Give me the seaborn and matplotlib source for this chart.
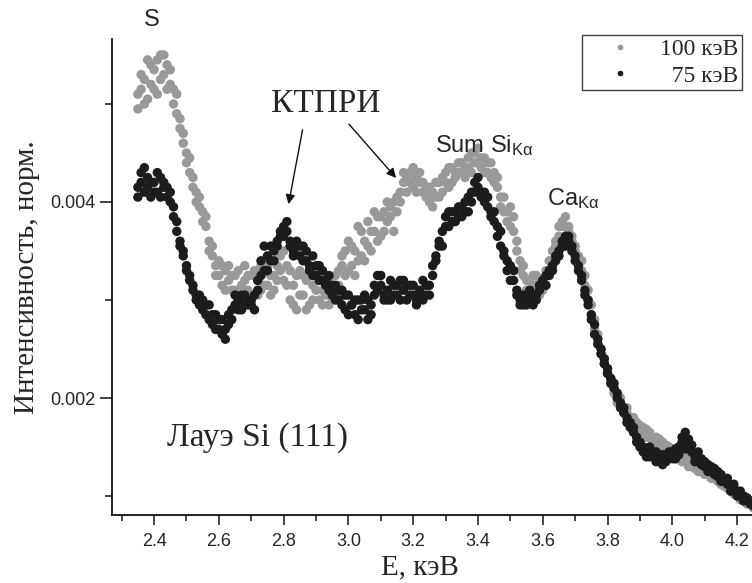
import numpy as np
import pandas as pd
import matplotlib
matplotlib.use("Agg")
import matplotlib.pyplot as plt
import seaborn as sns
from matplotlib.ticker import MultipleLocator, FixedLocator, FormatStrFormatter

# energy grid, keV
energy = [
    2.35, 2.36, 2.37, 2.38, 2.39, 2.40, 2.41, 2.42, 2.43, 2.44,
    2.45, 2.46, 2.47, 2.48, 2.49, 2.50, 2.51, 2.52, 2.53, 2.54,
    2.55, 2.56, 2.57, 2.58, 2.59, 2.60, 2.61, 2.62, 2.63, 2.64,
    2.65, 2.66, 2.67, 2.68, 2.69, 2.70, 2.71, 2.72, 2.73, 2.74,
    2.75, 2.76, 2.77, 2.78, 2.79, 2.80, 2.81, 2.82, 2.83, 2.84,
    2.85, 2.86, 2.87, 2.88, 2.89, 2.90, 2.91, 2.92, 2.93, 2.94,
    2.95, 2.96, 2.97, 2.98, 2.99, 3.00, 3.01, 3.02, 3.03, 3.04,
    3.05, 3.06, 3.07, 3.08, 3.09, 3.10, 3.11, 3.12, 3.13, 3.14,
    3.15, 3.16, 3.17, 3.18, 3.19, 3.20, 3.21, 3.22, 3.23, 3.24,
    3.25, 3.26, 3.27, 3.28, 3.29, 3.30, 3.31, 3.32, 3.33, 3.34,
    3.35, 3.36, 3.37, 3.38, 3.39, 3.40, 3.41, 3.42, 3.43, 3.44,
    3.45, 3.46, 3.47, 3.48, 3.49, 3.50, 3.51, 3.52, 3.53, 3.54,
    3.55, 3.56, 3.57, 3.58, 3.59, 3.60, 3.61, 3.62, 3.63, 3.64,
    3.65, 3.66, 3.67, 3.68, 3.69, 3.70, 3.71, 3.72, 3.73, 3.74,
    3.75, 3.76, 3.77, 3.78, 3.79, 3.80, 3.81, 3.82, 3.83, 3.84,
    3.85, 3.86, 3.87, 3.88, 3.89, 3.90, 3.91, 3.92, 3.93, 3.94,
    3.95, 3.96, 3.97, 3.98, 3.99, 4.00, 4.01, 4.02, 4.03, 4.04,
    4.05, 4.06, 4.07, 4.08, 4.09, 4.10, 4.11, 4.12, 4.13, 4.14,
    4.15, 4.16, 4.17, 4.18, 4.19, 4.20, 4.21, 4.22, 4.23, 4.24,
    4.25,
]

# intensity x 1e-3, 100 keV (grey), two readings per energy
i_100 = [
    5.10, 5.30, 5.00, 5.45, 5.20, 5.35, 5.10, 5.50, 5.30, 5.40,
    5.20, 5.00, 5.10, 4.75, 4.60, 4.50, 4.30, 4.25, 4.10, 3.95,
    3.90, 3.75, 3.60, 3.45, 3.35, 3.25, 3.15, 3.30, 3.20, 3.10,
    3.25, 3.00, 3.15, 3.20, 3.10, 3.25, 3.05, 3.20, 3.10, 3.30,
    3.15, 3.05, 3.25, 3.35, 3.45, 3.20, 3.35, 3.00, 3.15, 2.90,
    3.30, 3.05, 3.20, 2.95, 3.15, 3.30, 3.00, 3.10, 3.25, 2.95,
    3.15, 3.05, 3.30, 3.35, 3.50, 3.30, 3.55, 3.25, 3.75, 3.45,
    3.60, 3.80, 3.50, 3.70, 3.85, 3.65, 3.90, 3.80, 3.95, 3.70,
    4.05, 4.10, 4.20, 4.25, 4.30, 4.15, 4.25, 4.20, 4.10, 4.05,
    4.15, 3.95, 4.05, 4.20, 4.10, 4.30, 4.15, 4.35, 4.25, 4.40,
    4.30, 4.35, 4.45, 4.30, 4.50, 4.40, 4.45, 4.30, 4.40, 4.25,
    4.30, 4.15, 4.05, 3.90, 3.80, 3.95, 3.70, 3.50, 3.40, 3.25,
    3.20, 3.10, 3.25, 3.15, 3.05, 3.20, 3.30, 3.40, 3.50, 3.60,
    3.75, 3.80, 3.75, 3.70, 3.60, 3.50, 3.45, 3.30, 3.15, 3.00,
    2.85, 2.70, 2.55, 2.45, 2.35, 2.25, 2.15, 2.05, 2.00, 1.95,
    1.90, 1.85, 1.80, 1.75, 1.70, 1.72, 1.65, 1.68, 1.60, 1.55,
    1.60, 1.50, 1.55, 1.45, 1.50, 1.42, 1.48, 1.40, 1.35, 1.42,
    1.30, 1.35, 1.28, 1.32, 1.25, 1.30, 1.22, 1.25, 1.20, 1.15,
    1.18, 1.10, 1.12, 1.05, 1.08, 1.02, 1.00, 0.98, 0.95, 0.92,
    0.90,
]
i_100_b = [
    4.95, 5.15, 5.25, 5.05, 5.40, 5.15, 5.45, 5.25, 5.50, 5.15,
    5.35, 5.15, 4.90, 4.85, 4.70, 4.40, 4.45, 4.15, 4.00, 4.05,
    3.80, 3.85, 3.50, 3.55, 3.25, 3.40, 3.35, 3.10, 3.35, 3.25,
    3.10, 3.30, 3.05, 3.35, 3.25, 3.00, 3.30, 3.05, 3.35, 3.15,
    3.35, 3.25, 3.10, 3.20, 3.30, 3.50, 3.15, 3.30, 2.95, 3.25,
    3.05, 3.25, 2.90, 3.30, 3.00, 3.10, 3.25, 2.95, 3.05, 3.20,
    3.00, 3.25, 3.15, 3.45, 3.25, 3.60, 3.35, 3.50, 3.40, 3.70,
    3.40, 3.55, 3.70, 3.90, 3.60, 3.85, 3.70, 4.00, 3.85, 4.00,
    3.90, 4.00, 4.30, 4.10, 4.20, 4.35, 4.10, 4.30, 4.20, 4.15,
    4.00, 4.10, 4.20, 4.05, 4.25, 4.20, 4.35, 4.20, 4.30, 4.30,
    4.40, 4.25, 4.35, 4.50, 4.40, 4.55, 4.35, 4.45, 4.30, 4.40,
    4.20, 4.25, 3.95, 4.05, 3.90, 3.75, 3.85, 3.60, 3.30, 3.35,
    3.10, 3.20, 3.05, 3.25, 3.20, 3.10, 3.25, 3.30, 3.40, 3.55,
    3.65, 3.75, 3.85, 3.75, 3.65, 3.55, 3.40, 3.40, 3.25, 3.10,
    2.95, 2.80, 2.65, 2.50, 2.40, 2.30, 2.20, 2.10, 1.95, 2.00,
    1.85, 1.90, 1.75, 1.80, 1.75, 1.65, 1.70, 1.60, 1.65, 1.58,
    1.52, 1.58, 1.48, 1.52, 1.42, 1.48, 1.38, 1.45, 1.42, 1.35,
    1.38, 1.30, 1.35, 1.25, 1.30, 1.22, 1.28, 1.18, 1.22, 1.18,
    1.12, 1.15, 1.08, 1.10, 1.02, 1.05, 0.96, 1.00, 0.92, 0.95,
    0.88,
]

# intensity x 1e-3, 75 keV (black), two readings per energy
i_75 = [
    4.15, 4.30, 4.10, 4.25, 4.05, 4.20, 4.10, 4.25, 4.15, 4.05,
    4.10, 3.95, 3.70, 3.60, 3.45, 3.35, 3.25, 3.15, 3.05, 2.95,
    3.00, 2.85, 2.95, 2.75, 2.85, 2.70, 2.80, 2.60, 2.75, 2.90,
    2.95, 3.00, 2.90, 3.05, 2.95, 3.00, 2.90, 3.10, 3.25, 3.55,
    3.30, 3.40, 3.50, 3.55, 3.65, 3.75, 3.80, 3.60, 3.50, 3.60,
    3.45, 3.55, 3.40, 3.30, 3.45, 3.25, 3.35, 3.20, 3.15, 3.25,
    3.05, 3.15, 3.00, 3.10, 2.90, 3.05, 2.95, 2.85, 3.00, 2.90,
    3.05, 2.80, 2.95, 3.05, 3.25, 3.15, 3.00, 3.10, 3.00, 3.15,
    3.05, 3.20, 3.10, 3.00, 3.15, 3.05, 2.95, 3.10, 3.20, 3.05,
    3.15, 3.35, 3.45, 3.55, 3.70, 3.85, 3.75, 3.90, 3.80, 3.95,
    3.85, 4.00, 3.90, 4.10, 4.20, 4.15, 4.05, 4.10, 3.95, 3.85,
    3.90, 3.75, 3.55, 3.45, 3.30, 3.35, 3.20, 3.05, 3.00, 2.95,
    3.05, 3.00, 2.95, 3.05, 3.10, 3.15, 3.25, 3.30, 3.35, 3.40,
    3.50, 3.55, 3.65, 3.60, 3.50, 3.45, 3.35, 3.20, 3.05, 2.95,
    2.80, 2.65, 2.55, 2.45, 2.35, 2.30, 2.20, 2.10, 2.05, 1.95,
    1.90, 1.80, 1.75, 1.65, 1.60, 1.55, 1.50, 1.45, 1.50, 1.40,
    1.45, 1.38, 1.42, 1.35, 1.40, 1.45, 1.38, 1.50, 1.55, 1.48,
    1.58, 1.45, 1.40, 1.35, 1.38, 1.30, 1.32, 1.25, 1.28, 1.20,
    1.22, 1.15, 1.18, 1.10, 1.12, 1.05, 1.02, 1.00, 0.98, 0.95,
    0.92,
]
i_75_b = [
    4.05, 4.20, 4.35, 4.15, 4.20, 4.10, 4.30, 4.05, 4.20, 4.15,
    4.00, 3.85, 3.80, 3.55, 3.50, 3.30, 3.20, 3.10, 3.00, 3.05,
    2.90, 2.95, 2.80, 2.85, 2.70, 2.80, 2.65, 2.70, 2.85, 2.80,
    3.05, 2.90, 3.05, 2.95, 3.00, 2.95, 3.05, 3.20, 3.40, 3.30,
    3.45, 3.55, 3.40, 3.60, 3.70, 3.65, 3.70, 3.55, 3.45, 3.55,
    3.55, 3.40, 3.50, 3.35, 3.25, 3.35, 3.20, 3.30, 3.20, 3.10,
    3.15, 3.00, 3.10, 2.95, 3.05, 2.85, 2.95, 3.00, 2.80, 3.00,
    2.90, 3.00, 2.85, 3.15, 3.10, 3.25, 3.05, 3.00, 3.20, 3.05,
    3.15, 3.00, 3.20, 3.15, 3.05, 3.15, 3.00, 3.05, 3.00, 3.15,
    3.05, 3.25, 3.40, 3.60, 3.55, 3.75, 3.90, 3.80, 3.90, 3.85,
    3.95, 3.90, 4.05, 4.00, 4.10, 4.25, 4.10, 4.00, 4.05, 3.90,
    3.80, 3.65, 3.70, 3.50, 3.40, 3.20, 3.30, 3.10, 2.95, 3.05,
    2.95, 3.10, 3.05, 3.00, 3.15, 3.20, 3.15, 3.25, 3.30, 3.45,
    3.45, 3.60, 3.55, 3.65, 3.55, 3.40, 3.30, 3.25, 3.10, 3.00,
    2.85, 2.75, 2.60, 2.50, 2.40, 2.25, 2.15, 2.15, 2.00, 1.90,
    1.85, 1.75, 1.70, 1.70, 1.55, 1.50, 1.45, 1.40, 1.40, 1.45,
    1.35, 1.42, 1.32, 1.40, 1.45, 1.38, 1.48, 1.42, 1.60, 1.65,
    1.50, 1.52, 1.35, 1.45, 1.32, 1.35, 1.25, 1.30, 1.22, 1.25,
    1.15, 1.18, 1.12, 1.05, 1.08, 1.00, 1.05, 0.95, 0.98, 0.92,
    0.90,
]

series_labels = ["100 кэВ", "  75 кэВ"]
colors = ["#999999", "#1c1c1c"]

df = pd.concat([
    pd.DataFrame({"E": energy, "I": np.array(i_100) * 1e-3, "s": series_labels[0]}),
    pd.DataFrame({"E": energy, "I": np.array(i_100_b) * 1e-3, "s": series_labels[0]}),
    pd.DataFrame({"E": energy, "I": np.array(i_75) * 1e-3, "s": series_labels[1]}),
    pd.DataFrame({"E": energy, "I": np.array(i_75_b) * 1e-3, "s": series_labels[1]}),
], ignore_index=True)

sns.set_style("ticks")
plt.rcParams["font.family"] = ["Liberation Sans", "DejaVu Sans"]
plt.rcParams["mathtext.fontset"] = "custom"
plt.rcParams["mathtext.rm"] = "Liberation Sans"
plt.rcParams["mathtext.it"] = "Liberation Sans:italic"

fig = plt.figure(figsize=(7.52, 5.83), dpi=100)
ax = fig.add_axes([0.1489, 0.1166, 0.8511, 0.8165])

sns.scatterplot(data=df, x="E", y="I", hue="s", palette=colors,
                s=46, linewidth=0, edgecolor="none", ax=ax, legend=True)

ax.set_xlim(2.27, 4.246)
ax.set_ylim(0.000806, 0.005663)

ax.xaxis.set_major_locator(MultipleLocator(0.2))
ax.xaxis.set_minor_locator(MultipleLocator(0.1))
ax.xaxis.set_major_formatter(FormatStrFormatter("%.1f"))
ax.yaxis.set_major_locator(FixedLocator([0.002, 0.004]))
ax.yaxis.set_minor_locator(MultipleLocator(0.001))
ax.yaxis.set_major_formatter(FormatStrFormatter("%.3f"))

ax.tick_params(axis="x", which="major", direction="out", length=7, width=1.2,
               labelsize=13, pad=6)
ax.tick_params(axis="x", which="minor", direction="out", length=4, width=1.2)
ax.tick_params(axis="y", which="major", direction="out", length=9, width=1.2,
               labelsize=13, pad=3)
ax.tick_params(axis="y", which="minor", direction="out", length=5, width=1.2)

for side in ["top", "right"]:
    ax.spines[side].set_visible(False)
for side in ["left", "bottom"]:
    ax.spines[side].set_linewidth(1.3)
    ax.spines[side].set_color("#111111")

serif = ["Liberation Serif", "DejaVu Serif"]
ax.set_xlabel("E, кэВ", fontsize=21, family=serif)
ax.set_ylabel("Интенсивность, норм.", fontsize=21, family=serif)
ax.xaxis.set_label_coords(0.481, -0.082)
ax.yaxis.set_label_coords(-0.112, 0.5)

# annotations
ax.text(2.394, 0.005857, "S", fontsize=17, ha="center", va="center")
ax.text(2.931, 0.0050, "КТПРИ", fontsize=24, family=serif, ha="center", va="center")
ax.annotate("", xy=(2.8136, 0.00395), xytext=(2.86, 0.004765),
            arrowprops=dict(arrowstyle="-|>", color="#111111", lw=1.0,
                            mutation_scale=14))
ax.annotate("", xy=(3.153, 0.004224), xytext=(2.9957, 0.004816),
            arrowprops=dict(arrowstyle="-|>", color="#111111", lw=1.0,
                            mutation_scale=14))
ax.text(3.267, 0.00451, r"Sum Si$_{\mathrm{K\alpha}}$", fontsize=17, ha="left", va="baseline")
ax.text(3.613, 0.00397, r"Ca$_{\mathrm{K\alpha}}$", fontsize=17, ha="left", va="baseline")
ax.text(2.44, 0.0016, "Лауэ Si (111)", fontsize=24, family=serif, ha="left", va="center")

leg = ax.legend(loc="upper right", bbox_to_anchor=(0.984, 1.008), borderaxespad=0,
                frameon=True, fancybox=False, edgecolor="#111111",
                prop={"family": serif, "size": 17}, markerscale=0.6,
                handletextpad=0.25, borderpad=0.15, labelspacing=0.2,
                handlelength=2.9)
leg.get_frame().set_linewidth(1.0)
leg.set_title(None)

fig.savefig("out.png", dpi=100)
